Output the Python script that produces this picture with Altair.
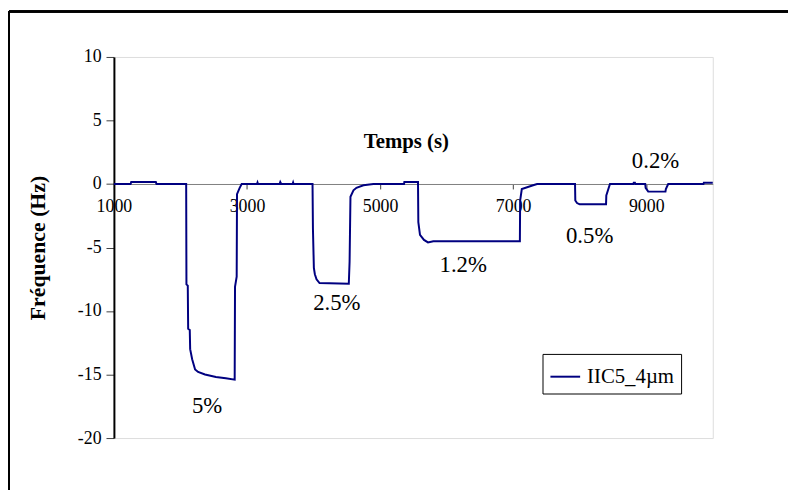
import altair as alt
import pandas as pd

# Time (s) and frequency shift (Hz)
temps = [1000, 1250, 1260, 1630, 1640, 2086, 2090, 2110, 2116, 2140, 2146, 2176, 2220, 2265,
         2369, 2533, 2682, 2815, 2820, 2845, 2850, 2890, 2920,
         3150, 3158, 3166, 3490, 3500, 3515, 3685, 3693, 3700,
         3985, 3991, 4005, 4020, 4045, 4090, 4530, 4542, 4555, 4600, 4645, 4750, 4900,
         5360, 5365, 5570, 5575, 5600, 5660, 5720, 5800, 7101, 7105, 7130, 7300, 7360,
         7930, 7934, 7960, 8000, 8396, 8400, 8455,
         8805, 8812, 8830, 8835,
         8985, 8991, 9030, 9289, 9295, 9330, 9860, 9866, 10000]
freq = [0, 0, 0.15, 0.15, 0, 0, -7.9, -8.0, -11.4, -11.5, -13.0, -13.8, -14.6, -14.8,
        -15.0, -15.2, -15.3, -15.4, -8.1, -7.3, -0.8, -0.3, 0,
        0, 0.12, 0, 0, 0.15, 0, 0, 0.12, 0,
        0, -3.5, -6.6, -7.1, -7.5, -7.8, -7.85, -6.1, -1.0, -0.5, -0.3, -0.1, 0,
        0, 0.15, 0.15, -3.0, -4.0, -4.4, -4.6, -4.5, -4.5, -1.3, -0.4, -0.1, 0,
        0, -1.3, -1.5, -1.6, -1.6, -0.9, 0,
        0, 0.1, 0.1, 0,
        0, -0.3, -0.6, -0.6, -0.4, 0, 0, 0.1, 0.1]
series_name = "IIC5_4µm"

# Concentration annotations
ann_text = ["5%", "2.5%", "1.2%", "0.5%", "0.2%"]
ann_t = [2400, 4350, 6250, 8150, 9140]
ann_f = [-17.5, -9.4, -6.4, -4.1, 1.8]

x_ticks = [1000, 3000, 5000, 7000, 9000]
y_ticks = [-20, -15, -10, -5, 0, 5, 10]

df = pd.DataFrame({"t": temps, "f": freq, "series": [series_name] * len(temps)})
df_ann = pd.DataFrame({"t": ann_t, "f": ann_f, "label": ann_text})

FONT = "Liberation Serif"
W, H = 605, 385

x_scale = alt.Scale(domain=[1000, 10000], nice=False, zero=False)
y_scale = alt.Scale(domain=[-20, 10], nice=False)

line = alt.Chart(df).mark_line(strokeWidth=2, interpolate="linear").encode(
    x=alt.X("t:Q", scale=x_scale,
            axis=alt.Axis(values=x_ticks, offset=-(H - H * 10 / 30), format="d",
                          title="Temps (s)", titleFont=FONT, titleFontSize=21,
                          titleFontWeight="bold", titleColor="black",
                          titleX=295, titleY=-43, titleBaseline="middle",
                          domainColor="#808080", domainWidth=1,
                          tickColor="#404040", tickSize=5,
                          labelFont=FONT, labelFontSize=18, labelColor="black",
                          labelPadding=9, grid=False, labelFlush=False)),
    y=alt.Y("f:Q", scale=y_scale,
            axis=alt.Axis(values=y_ticks, title="Fréquence (Hz)", titleFont=FONT,
                          titleFontSize=22, titleFontWeight="bold", titleColor="black",
                          titleX=-77, titleY=H / 2, titleAngle=270,
                          titleAlign="center", titleBaseline="middle",
                          labelExpr="datum.value < 0 ? '-' + abs(datum.value) : '' + datum.value",
                          domainColor="black", domainWidth=2,
                          tickColor="#404040", tickSize=8,
                          labelFont=FONT, labelFontSize=18, labelColor="black",
                          labelPadding=5, grid=False)),
    color=alt.Color("series:N", scale=alt.Scale(range=["#000080"]),
                    legend=alt.Legend(title=None, orient="none", legendX=433, legendY=300,
                                      symbolType="stroke", symbolSize=900,
                                      symbolStrokeWidth=2, labelFont=FONT,
                                      labelFontSize=21, labelColor="black",
                                      strokeColor="black", fillColor="white",
                                      padding=7, labelOffset=6)),
)

ann = alt.Chart(df_ann).mark_text(font=FONT, fontSize=23, color="black").encode(
    x=alt.X("t:Q", scale=x_scale),
    y=alt.Y("f:Q", scale=y_scale),
    text="label:N",
)

border_left = alt.Chart(df_ann).mark_rule(color="black", strokeWidth=2).encode(
    x=alt.value(-106), y=alt.value(-46), y2=alt.value(520))
border_top = alt.Chart(df_ann).mark_rule(color="black", strokeWidth=2).encode(
    x=alt.value(-106), x2=alt.value(800), y=alt.value(-46))

chart = alt.layer(line, ann, border_left, border_top).properties(
    width=W, height=H,
    autosize=alt.AutoSizeParams(type="none"),
    padding={"left": 107, "top": 47, "right": 76, "bottom": 50},
).configure_view(stroke="#808080", strokeWidth=1).configure(
    background="white", font=FONT
).configure_text(font=FONT).configure_legend(labelFont=FONT)

chart.save("out.html", embed_options={"renderer": "svg", "actions": False})
